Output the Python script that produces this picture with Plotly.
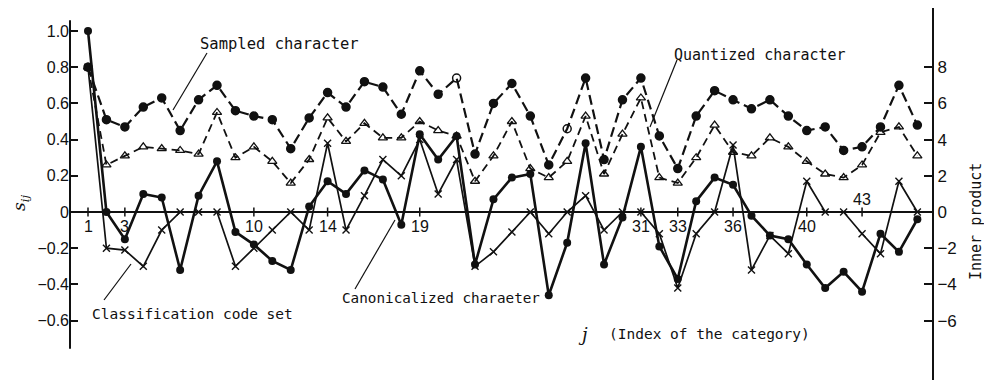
import plotly.graph_objects as go

# ---------------- data ----------------
j_index = list(range(1, 47))

sampled = [0.80, 0.51, 0.47, 0.58, 0.63, 0.45, 0.62, 0.70, 0.56, 0.53,
           0.51, 0.35, 0.52, 0.66, 0.58, 0.72, 0.69, 0.54, 0.78, 0.65,
           0.74, 0.32, 0.60, 0.71, 0.53, 0.26, 0.46, 0.74, 0.29, 0.62,
           0.74, 0.42, 0.24, 0.53, 0.67, 0.62, 0.57, 0.62, 0.53, 0.45,
           0.47, 0.34, 0.36, 0.47, 0.70, 0.48]

quantized = [0.80, 0.26, 0.31, 0.36, 0.35, 0.34, 0.32, 0.55, 0.30, 0.36,
             0.28, 0.16, 0.29, 0.52, 0.39, 0.49, 0.41, 0.41, 0.50, 0.45,
             0.42, 0.17, 0.31, 0.50, 0.24, 0.19, 0.28, 0.53, 0.21, 0.43,
             0.63, 0.19, 0.16, 0.30, 0.48, 0.33, 0.31, 0.41, 0.36, 0.28,
             0.21, 0.19, 0.26, 0.44, 0.47, 0.31]

canonicalized = [1.00, 0.00, -0.15, 0.10, 0.08, -0.32, 0.09, 0.28, -0.11, -0.18,
                 -0.27, -0.32, 0.03, 0.17, 0.10, 0.23, 0.18, -0.07, 0.43, 0.29,
                 0.42, -0.29, 0.07, 0.19, 0.21, -0.46, -0.17, 0.38, -0.29, -0.03,
                 0.36, -0.19, -0.37, 0.06, 0.19, 0.15, -0.02, -0.13, -0.15, -0.29,
                 -0.42, -0.33, -0.44, -0.12, -0.22, -0.04]

# classification code set, in inner-product units (right axis)
code_set = [8.0, -2.0, -2.1, -3.0, -1.0, 0.0, 0.0, 0.0, -3.0, -2.0,
            -1.0, 0.0, -1.0, 3.8, -1.0, 0.9, 2.9, 2.0, 4.0, 1.0,
            2.9, -3.0, -2.2, -1.1, 0.0, -1.2, 0.0, 0.9, -1.0, 0.0,
            0.0, -1.2, -4.2, -1.2, 0.0, 3.7, -3.2, -1.3, -2.3, 1.7,
            0.0, 0.0, -1.2, -2.3, 1.7, 0.0]

open_sampled_points = [21, 27]

x_tick_vals = [1, 3, 10, 14, 19, 31, 33, 36, 40, 43]
x_tick_labels_above = [43]

left_tick_vals = [1.0, 0.8, 0.6, 0.4, 0.2, 0.0, -0.2, -0.4, -0.6]
left_tick_text = ["1.0", "0.8", "0.6", "0.4", "0.2", "0", "\u22120.2", "\u22120.4", "\u22120.6"]
right_tick_vals = [8, 6, 4, 2, 0, -2, -4, -6]

# ---------------- layout geometry ----------------
# the page body has an 8px margin, so the figure is drawn from (8, 8)
OFF = 8
W, H = 992 - OFF, 380 - OFF
ML, MR, MT, MB = 70 - OFF, 60, 0, 0
PW, PH = W - ML - MR, H - MT - MB
Y_RANGE = [-0.928, 1.127]
Y2_RANGE = [Y_RANGE[0] * 10, Y_RANGE[1] * 10]
X_RANGE = [0.0233, 46.795]


def px(x, y):
    """page pixel -> paper coords"""
    return (x - OFF - ML) / PW, (OFF + MT + PH - y) / PH


MONO = "DejaVu Sans Mono"
NUM = "Liberation Sans Narrow, Liberation Sans, Arial"
BLACK = "#111111"

fig = go.Figure()

sym_sampled = ["circle-open" if j in open_sampled_points else "circle" for j in j_index]

fig.add_trace(go.Scatter(
    x=j_index, y=sampled, mode="lines+markers", name="Sampled character",
    line=dict(color=BLACK, width=2.2, dash="10px,5px"),
    marker=dict(symbol=sym_sampled, size=8, color=BLACK, line=dict(color=BLACK, width=1.5)),
))
fig.add_trace(go.Scatter(
    x=j_index, y=quantized, mode="lines+markers", name="Quantized character",
    line=dict(color=BLACK, width=1.8, dash="8px,5px"),
    marker=dict(symbol="triangle-up-open", size=8, color=BLACK, line=dict(color=BLACK, width=1.3)),
))
fig.add_trace(go.Scatter(
    x=j_index, y=canonicalized, mode="lines+markers", name="Canonicalized charaeter",
    line=dict(color=BLACK, width=2.6),
    marker=dict(symbol="circle", size=8, color=BLACK),
))
fig.add_trace(go.Scatter(
    x=j_index, y=code_set, mode="lines+markers", name="Classification code set",
    yaxis="y2",
    line=dict(color=BLACK, width=1.7),
    marker=dict(symbol="x-thin", size=7, color=BLACK, line=dict(color=BLACK, width=1.4)),
))

shapes = []
# left axis line (shorter than plot area)
shapes.append(dict(type="line", xref="paper", yref="y", x0=0, x1=0, y0=-0.756, y1=1.06,
                   line=dict(color=BLACK, width=2)))
# x tick marks crossing the zero line
for t in x_tick_vals:
    shapes.append(dict(type="line", xref="x", yref="y", x0=t, x1=t, y0=-0.025, y1=0.025,
                       line=dict(color=BLACK, width=1.5)))

# leader lines
leaders = [((207, 53), (173, 110)),
           ((677, 60), (650, 127)),
           ((104, 300), (131, 264)),
           ((355, 289), (395, 220))]
for (a, b) in leaders:
    x0, y0 = px(*a)
    x1, y1 = px(*b)
    shapes.append(dict(type="line", xref="paper", yref="paper", x0=x0, y0=y0, x1=x1, y1=y1,
                       line=dict(color=BLACK, width=1.2)))

annotations = []
for t in x_tick_vals:
    above = t in x_tick_labels_above
    annotations.append(dict(x=t, y=0, xref="x", yref="y", text=str(t), showarrow=False,
                            font=dict(family=NUM, size=16, color=BLACK),
                            xanchor="center", yanchor="middle",
                            yshift=13 if above else -14))


def label(text, x, y, size=15, xanchor="left", angle=0, family=MONO):
    ax, ay = px(x, y)
    annotations.append(dict(x=ax, y=ay, xref="paper", yref="paper", text=text, showarrow=False,
                            font=dict(family=family, size=size, color=BLACK),
                            xanchor=xanchor, yanchor="middle", textangle=angle))


label("Sampled character", 198, 44, size=15.5)
label("Quantized character", 672, 55, size=15)
label("Classification code set", 90, 314, size=14.5)
label("Canonicalized charaeter", 340, 298, size=14.3)
label("<i>j</i>", 583, 334, size=18, xanchor="center", family="DejaVu Serif")
label("(Index of the category)", 607, 334, size=14.5)
label("<i>s</i><sub><i>ij</i></sub>", 20, 203, size=17, xanchor="center", angle=-90, family="DejaVu Serif")
label("Inner product", 976, 222, size=15, xanchor="center", angle=-90)

fig.update_layout(
    width=W, height=H,
    margin=dict(l=ML, r=MR, t=MT, b=MB, pad=0),
    paper_bgcolor="white", plot_bgcolor="white",
    showlegend=False,
    xaxis=dict(range=X_RANGE, visible=False, fixedrange=True),
    yaxis=dict(range=Y_RANGE, tickvals=left_tick_vals, ticktext=left_tick_text,
               ticks="inside", ticklen=8, tickwidth=1.5, tickcolor=BLACK,
               showline=False, showgrid=False,
               zeroline=True, zerolinecolor=BLACK, zerolinewidth=2,
               tickfont=dict(family=NUM, size=16, color=BLACK)),
    yaxis2=dict(range=Y2_RANGE, overlaying="y", side="right", tickvals=right_tick_vals,
                ticks="inside", ticklen=8, tickwidth=1.5, tickcolor=BLACK,
                showline=True, linecolor=BLACK, linewidth=2,
                showgrid=False, zeroline=False,
                tickfont=dict(family=NUM, size=17, color=BLACK)),
    shapes=shapes,
    annotations=annotations,
)

fig.write_html("out.html")
